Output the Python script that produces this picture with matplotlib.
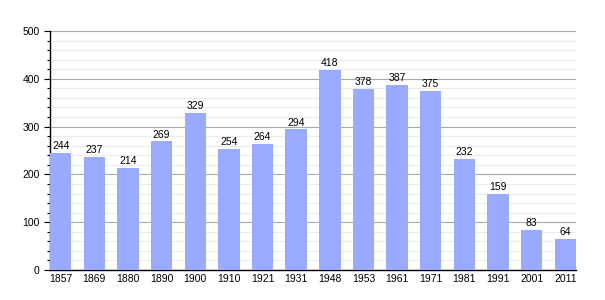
import matplotlib
matplotlib.use('Agg')
import matplotlib.pyplot as plt
import numpy as np

plt.rcParams['font.family'] = ['Liberation Sans', 'DejaVu Sans']

years = ['1857', '1869', '1880', '1890', '1900', '1910', '1921', '1931',
         '1948', '1953', '1961', '1971', '1981', '1991', '2001', '2011']
population = [244, 237, 214, 269, 329, 254, 264, 294,
              418, 378, 387, 375, 232, 159, 83, 64]

fig = plt.figure(figsize=(6.05, 3.0), dpi=100)
ax = fig.add_axes([50/605, 0.1, 526/605, 239/300])

x = np.arange(len(years))
w = 21/33
ax.bar(x, population, width=w, color='#99aaff', zorder=3)
for xi, v in zip(x, population):
    ax.text(xi, v + 4, str(v), ha='center', va='bottom', fontsize=7.5, color='black', zorder=4)

ax.set_xlim(-w/2, len(years) - 1 + w/2)
ax.set_ylim(0, 500)
ax.set_xticks(x)
ax.set_xticklabels(years, fontsize=7.5)
ax.set_yticks(range(0, 501, 100))
ax.set_yticks(range(0, 501, 20), minor=True)
ax.tick_params(axis='y', which='major', labelsize=7.5, length=4, width=0.8)
ax.tick_params(axis='y', which='minor', length=2.5, width=0.8)
ax.tick_params(axis='x', length=0, pad=3)

ax.grid(axis='y', which='minor', color='#ebebeb', linewidth=0.8, zorder=0)
ax.grid(axis='y', which='major', color='#aaaaaa', linewidth=0.8, zorder=1)
ax.set_axisbelow(True)

for s in ['top', 'right']:
    ax.spines[s].set_visible(False)
ax.spines['left'].set_linewidth(1)
ax.spines['bottom'].set_linewidth(1)

fig.savefig('out.png', dpi=100)
